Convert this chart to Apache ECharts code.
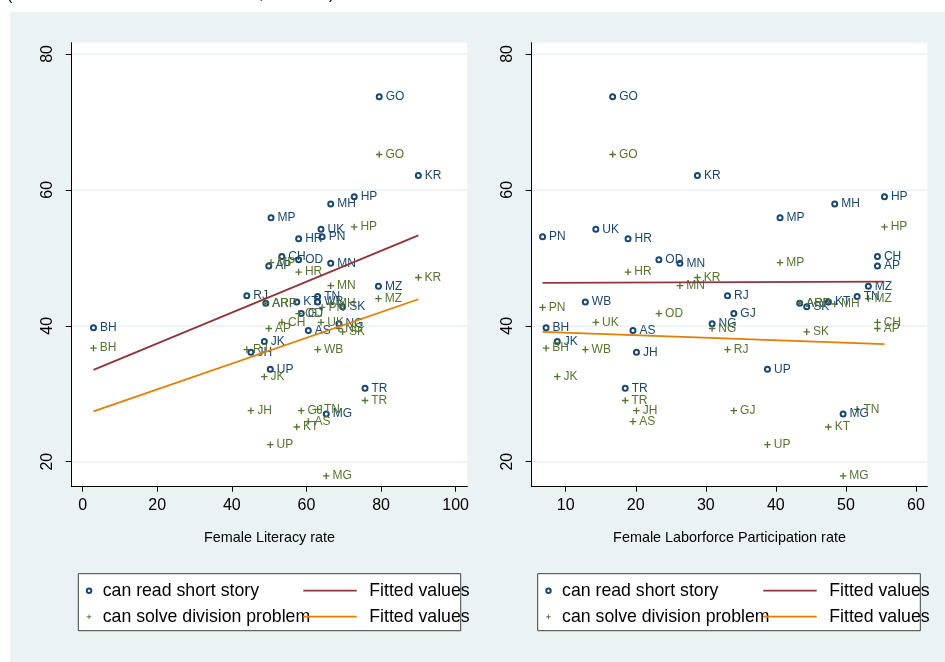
<!DOCTYPE html>
<html><head><meta charset="utf-8">
<script src="https://cdn.jsdelivr.net/npm/echarts@6/dist/echarts.min.js"></script>
<style>html,body{margin:0;padding:0;background:#fff}#c{width:945px;height:662px}</style>
</head><body><div id="c"></div>
<script>
// ---- data ----
const states = ['GO','KR','HP','MH','MP','UK','PN','HR','CH','OD','MN','AP','MZ','RJ','TN','KT','WB','SK','ARP','GJ','NG','AS','BH','JK','JH','UP','TR','MG'];
const femaleLiteracy = [79.5,90.0,72.8,66.5,50.5,63.9,64.2,57.9,53.4,57.9,66.5,49.9,79.3,44.0,63.0,57.4,63.0,69.7,49.1,58.6,68.7,60.5,2.9,48.7,45.1,50.3,75.7,65.3];
const femaleLFP = [16.7,28.8,55.5,48.4,40.6,14.3,6.7,18.9,54.5,23.3,26.3,54.5,53.2,33.1,51.6,47.5,12.8,44.4,43.4,34.0,30.9,19.6,7.2,8.8,20.1,38.8,18.5,49.6];
const canRead = [73.7,62.1,59.0,57.9,55.9,54.2,53.1,52.8,50.2,49.7,49.2,48.8,45.8,44.4,44.3,43.5,43.5,42.8,43.3,41.8,40.3,39.3,39.7,37.7,36.1,33.6,30.8,27.0];
const canSolve = [65.2,47.1,54.55,43.2,49.3,40.5,42.7,47.9,40.5,41.8,45.9,39.6,44.0,36.5,27.7,25.1,36.5,39.1,43.3,27.5,39.6,25.9,36.7,32.5,27.5,22.5,29.0,17.9];
const fitLitX = [2.9, 90.0];
const fitReadLit = [33.5, 53.3];
const fitSolveLit = [27.4, 43.9];
const fitLfpX = [6.7, 55.5];
const fitReadLfp = [46.3, 46.5];
const fitSolveLfp = [39.1, 37.3];
const yTicks = [20,40,60,80];
const litTicks = [0,20,40,60,80,100];
const lfpTicks = [10,20,30,40,50,60];
const seriesNames = ['can read short story','can solve division problem','Fitted values','Fitted values '];
const axisTitles = ['Female Literacy rate','Female Laborforce Participation rate'];

// ---- style ----
const FONT = '"Liberation Sans", Arial, sans-serif';
const NAVY='#1a476f', GREEN='#55752f', MAROON='#90353b', ORANGE='#e37e00', BG='#eaf2f3';
const PLUS='path://M2.8,0H4.2V2.8H7V4.2H4.2V7H2.8V4.2H0V2.8H2.8Z';

function pts(xs, ys){ return states.map((s,i)=>({name:s, value:[xs[i], ys[i]]})); }
function pairs(xs, ys){ return xs.map((x,i)=>[x, ys[i]]); }

function xAx(gi, min, max, ticks, name){
  return {type:'value', gridIndex:gi, min:min, max:max, name:name, nameLocation:'middle', nameGap:44,
    nameTextStyle:{fontFamily:FONT, fontSize:14.4, color:'#000'},
    axisLine:{show:true, onZero:false, lineStyle:{color:'#000', width:1}},
    axisTick:{show:true, length:5, customValues:ticks, lineStyle:{color:'#000', width:1}},
    axisLabel:{customValues:ticks, margin:11, fontFamily:FONT, fontSize:16, color:'#000'},
    splitLine:{show:false}};
}
function yAx(gi){
  return {type:'value', gridIndex:gi, min:16.32, max:81.66,
    axisLine:{show:true, onZero:false, lineStyle:{color:'#000', width:1}},
    axisTick:{show:true, length:6, customValues:yTicks, lineStyle:{color:'#000', width:1}},
    axisLabel:{customValues:yTicks, rotate:90, margin:16, fontFamily:FONT, fontSize:16, color:'#000'},
    splitLine:{show:true, lineStyle:{color:BG, width:1.5}}};
}
function scatter(gi, xs, ys, name, sym, size, color, bw){
  return {type:'scatter', name:name, xAxisIndex:gi, yAxisIndex:gi, data:pts(xs, ys),
    symbol:sym, symbolSize:size, itemStyle:{color:color, borderColor:color, borderWidth:bw, opacity:1},
    label:{show:true, position:'right', distance:3, formatter:'{b}', fontFamily:FONT, fontSize:12, color:color},
    emphasis:{disabled:true}, silent:true};
}
function fit(gi, xs, ys, name, color){
  return {type:'line', name:name, xAxisIndex:gi, yAxisIndex:gi, data:pairs(xs, ys), symbol:'none', showSymbol:false,
    lineStyle:{color:color, width:1.8}, itemStyle:{color:color}, emphasis:{disabled:true}, silent:true};
}
const legTxt = (pl)=>({fontFamily:FONT, fontSize:17.7, color:'#000', lineHeight:18, padding:[0,0,0,pl]});
function legendCol(left, names, w, h, pl, icon){
  return {left:left, top:581.7, orient:'vertical', itemWidth:w, itemHeight:h, itemGap:8, padding:0,
    data:names.map(n=>icon ? {name:n, icon:icon} : n), textStyle:legTxt(pl), selectedMode:false};
}

const chart = echarts.init(document.getElementById('c'), null, {renderer:'canvas'});
chart.setOption({
  animation:false,
  backgroundColor:BG,
  grid:[
    {left:71.67, top:42.67, width:395.66, height:444, show:true, backgroundColor:'#fff', borderWidth:0},
    {left:531.67, top:42.67, width:395.66, height:444, show:true, backgroundColor:'#fff', borderWidth:0}
  ],
  xAxis:[xAx(0,-2.95,103.13,litTicks,axisTitles[0]), xAx(1,5.143,61.62,lfpTicks,axisTitles[1])],
  yAxis:[yAx(0), yAx(1)],
  legend:[
    legendCol(85.8, [seriesNames[0], seriesNames[1]], 4.5, 4.5, 6.4, null),
    legendCol(303.3, [seriesNames[2], seriesNames[3]], 53.4, 1.8, 7.6, 'rect'),
    legendCol(545.2, [seriesNames[0], seriesNames[1]], 4.5, 4.5, 6.4, null),
    legendCol(763.3, [seriesNames[2], seriesNames[3]], 53.4, 1.8, 7.6, 'rect')
  ],
  graphic:[
    {type:'rect', shape:{x:0,y:0,width:945,height:12}, style:{fill:'#fff'}, z:0},
    {type:'rect', shape:{x:0,y:0,width:10,height:662}, style:{fill:'#fff'}, z:0},
    {type:'text', x:7, y:4, style:{text:'(', font:'16px '+FONT, fill:'#000', verticalAlign:'bottom'}},
    {type:'text', x:259, y:3, style:{text:',', font:'16px '+FONT, fill:'#000', verticalAlign:'bottom'}},
    {type:'text', x:329, y:3, style:{text:')', font:'16px '+FONT, fill:'#000', verticalAlign:'bottom'}},
    {type:'rect', shape:{x:78.3,y:573.7,width:382.4,height:57}, style:{fill:'#fff', stroke:'#404040', lineWidth:1}, z:0},
    {type:'rect', shape:{x:537.7,y:573.7,width:382.6,height:57}, style:{fill:'#fff', stroke:'#404040', lineWidth:1}, z:0}
  ],
  series:[
    scatter(0, femaleLiteracy, canRead, seriesNames[0], 'emptyCircle', 5, NAVY, 1.6),
    scatter(0, femaleLiteracy, canSolve, seriesNames[1], PLUS, 6.5, GREEN, 0),
    fit(0, fitLitX, fitReadLit, seriesNames[2], MAROON),
    fit(0, fitLitX, fitSolveLit, seriesNames[3], ORANGE),
    scatter(1, femaleLFP, canRead, seriesNames[0], 'emptyCircle', 5, NAVY, 1.6),
    scatter(1, femaleLFP, canSolve, seriesNames[1], PLUS, 6.5, GREEN, 0),
    fit(1, fitLfpX, fitReadLfp, seriesNames[2], MAROON),
    fit(1, fitLfpX, fitSolveLfp, seriesNames[3], ORANGE)
  ]
});
</script></body></html>
